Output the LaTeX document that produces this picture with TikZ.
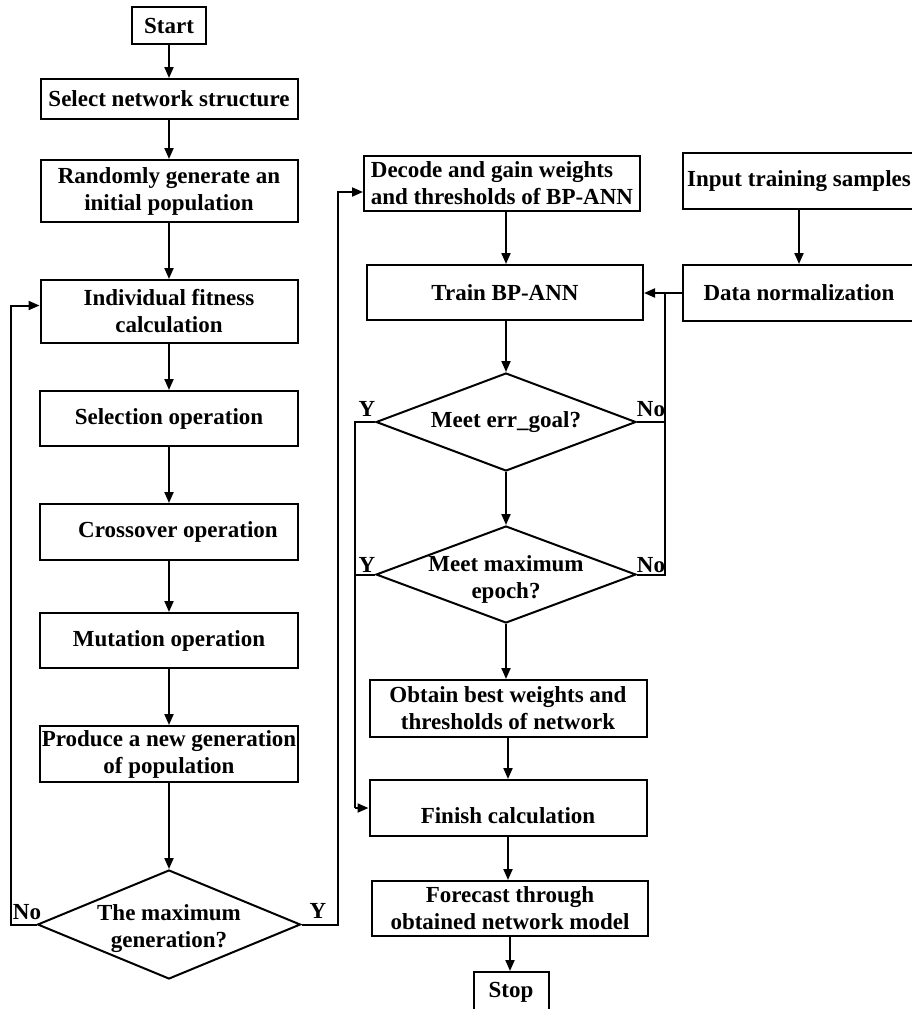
\documentclass[tikz,border=0pt]{standalone}
\usepackage{fontspec}
\setmainfont{Liberation Serif}
\usetikzlibrary{arrows.meta,shapes.geometric,calc}
\tikzset{
  txt/.style={font=\bfseries\fontsize{23}{27}\selectfont},
  box/.style={draw, line width=2pt, rectangle, inner sep=0pt, align=center, txt},
  dia/.style={draw, line width=2pt, diamond, inner sep=0pt, aspect=2.5},
  ln/.style={line width=2pt},
  arr/.style={line width=2pt, -{Triangle[length=11pt,width=9pt]}},
  lab/.style={txt, inner sep=0pt, align=center}
}
\begin{document}
\begin{tikzpicture}[x=1pt,y=-1pt]
\fill[white] (0,0) rectangle (912,1009);
\useasboundingbox (0,0) rectangle (912,1009);
% left column
\node[box, minimum width=74pt, minimum height=37pt] (start) at (169,25.5) {Start};
\node[box, minimum width=257pt, minimum height=40pt] (select) at (169,99) {Select network structure};
\node[box, minimum width=257pt, minimum height=62pt] (random) at (169,191) {Randomly generate an\\initial population};
\node[box, minimum width=257pt, minimum height=63pt] (fitness) at (169,311.5) {Individual fitness\\calculation};
\node[box, minimum width=258pt, minimum height=55pt] (selection) at (169,418.5) {Selection operation};
\node[box, minimum width=258pt, minimum height=56pt] (crossover) at (169,532) {\hspace*{18pt}Crossover operation};
\node[box, minimum width=258pt, minimum height=55pt] (mutation) at (169,640.5) {Mutation operation};
\node[box, minimum width=258pt, minimum height=56pt] (produce) at (169,754) {Produce a new generation\\of population};
\node[dia, minimum width=263pt, minimum height=109pt,
      label={[lab, yshift=-4pt]center:The maximum\\generation?}] (gen) at (169,924.5) {};
% right column
\node[box, align=left, minimum width=276pt, minimum height=55pt] (decode) at (502,183.5) {Decode and gain weights\\and thresholds of BP-ANN};
\node[box, minimum width=276pt, minimum height=55pt] (train) at (505,292.5) {Train BP-ANN};
\node[dia, minimum width=260pt, minimum height=98pt,
      label={[lab]center:Meet err\_goal?}] (d1) at (506,422) {};
\node[dia, minimum width=260pt, minimum height=97pt,
      label={[lab, yshift=-5pt]center:Meet maximum\\epoch?}] (d2) at (506,574.5) {};
\node[box, minimum width=277pt, minimum height=57pt] (obtain) at (508,708.5) {Obtain best weights and\\thresholds of network};
\node[box, minimum width=277pt, minimum height=56pt, label={[lab, yshift=-8pt]center:Finish calculation}] (finish) at (508,808) {};
\node[box, minimum width=276pt, minimum height=55pt] (forecast) at (510,908.5) {Forecast through\\obtained network model};
\node[box, minimum width=75pt, minimum height=40pt] (stop) at (511,992) {Stop};
\node[box, minimum width=232pt, minimum height=56pt] (input) at (799,181) {Input training samples};
\node[box, minimum width=232pt, minimum height=56pt] (norm) at (799,293) {Data normalization};
% left column arrows
\draw[arr] (start.south) -- (start.south |- select.north);
\draw[arr] (select.south) -- (select.south |- random.north);
\draw[arr] (random.south) -- (random.south |- fitness.north);
\draw[arr] (fitness.south) -- (fitness.south |- selection.north);
\draw[arr] (selection.south) -- (selection.south |- crossover.north);
\draw[arr] (crossover.south) -- (crossover.south |- mutation.north);
\draw[arr] (mutation.south) -- (mutation.south |- produce.north);
\draw[arr] (produce.south) -- (produce.south |- gen.north);
% loops from generation diamond
\coordinate (lc) at (11,924.5);
\coordinate (rc) at (338,924.5);
\draw[arr] (gen.west) -- (lc) |- ([yshift=6pt]fitness.west);
\draw[arr] (gen.east) -- (rc) |- ([yshift=-8.5pt]decode.west);
\node[lab] (nol) at (27,912) {No};
\node[lab] (yl) at (318,911) {Y};
% right column arrows
\draw[arr] (decode.south) ++(4,0) coordinate (ds) -- (ds |- train.north);
\draw[arr] (train.south) ++(1,0) coordinate (ts) -- (ts |- d1.north);
\draw[arr] (d1.south) -- (d2.north);
\draw[arr] (d2.south) -- (d2.south |- obtain.north);
\draw[arr] (obtain.south) -- (obtain.south |- finish.north);
\draw[arr] (finish.south) -- (finish.south |- forecast.north);
\draw[arr] (forecast.south) -- (forecast.south |- stop.north);
\draw[arr] (input.south) -- (norm.north);
\draw[arr] (norm.west) -- (norm.west -| train.east);
% No feedback
\coordinate (fb) at (665,293);
\draw[ln] (d1.east) -| (fb);
\draw[ln] (d2.east) -| (fb);
\node[lab] (no1) at (651,409) {No};
\node[lab] (no2) at (651,565) {No};
% Y path
\coordinate (yc) at (355,808);
\draw[ln] (d1.west) -| (yc);
\draw[ln] (d2.west) -- (d2.west -| yc);
\draw[arr] (yc) -- (finish.west);
\node[lab] (y1) at (367,409) {Y};
\node[lab] (y2) at (367,565) {Y};
\end{tikzpicture}
\end{document}
